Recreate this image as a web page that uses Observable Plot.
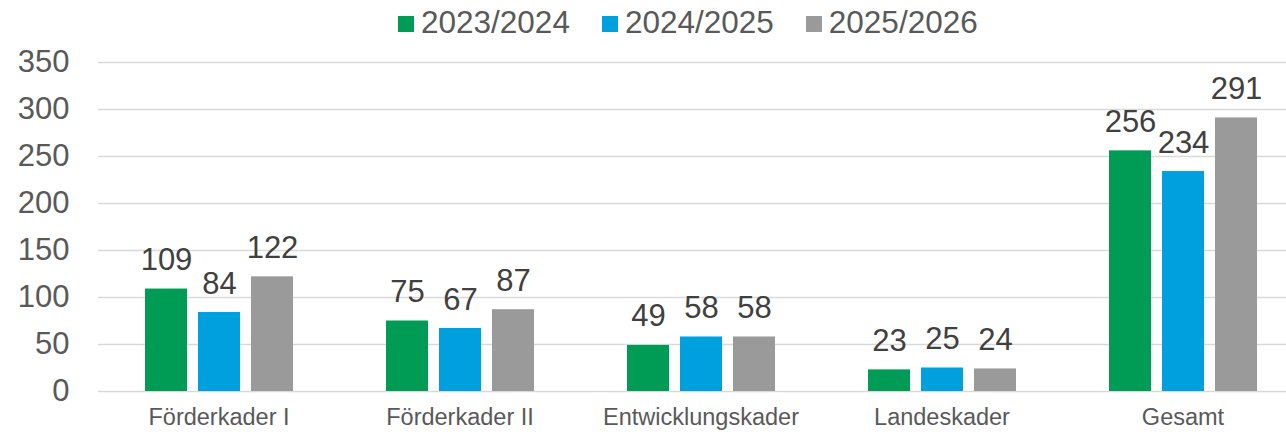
<!DOCTYPE html>
<html>
<head>
<meta charset="utf-8">
<script src="https://cdn.jsdelivr.net/npm/d3@7"></script>
<script src="https://cdn.jsdelivr.net/npm/@observablehq/plot@0.6"></script>
<style>
  html, body { margin: 0; padding: 0; background: #fff; overflow: hidden; }
  body { width: 1286px; height: 432px; font-family: "Liberation Sans", Arial, sans-serif; }
  #legend { position: relative; height: 45px; display: flex; align-items: center; padding-left: 398px; box-sizing: border-box; }
  .item { display: flex; align-items: center; margin-right: 32px; font-size: 31.5px; color: #595959; }
  .sw { width: 16px; height: 16px; margin-right: 7px; margin-top: 2px; }
  #chart svg { display: block; overflow: hidden; }
</style>
</head>
<body>
<div id="legend"></div>
<div id="chart"></div>
<script>
const categories = ["Förderkader I", "Förderkader II", "Entwicklungskader", "Landeskader", "Gesamt"];
const seriesNames = ["2023/2024", "2024/2025", "2025/2026"];
const values2023 = [109, 75, 49, 23, 256];
const values2024 = [84, 67, 58, 25, 234];
const values2025 = [122, 87, 58, 24, 291];
const yTicks = [0, 50, 100, 150, 200, 250, 300, 350];
const colors = ["#009B55", "#009FDD", "#9A9A9A"];

const seriesValues = [values2023, values2024, values2025];
const data = [];
categories.forEach((c, i) => {
  seriesNames.forEach((s, j) => {
    data.push({category: c, series: s, value: seriesValues[j][i]});
  });
});

const font = '"Liberation Sans", Arial, sans-serif';

const chart = Plot.plot({
  width: 1286,
  height: 387,
  marginLeft: 97,
  marginRight: 0,
  marginTop: 17,
  marginBottom: 41,
  style: {fontFamily: font, background: "#fff", overflow: "hidden"},
  fx: {domain: categories, range: [96, 1304.4], padding: 0, label: null},
  x: {domain: seriesNames, paddingInner: 0.215, paddingOuter: 0.865, axis: null},
  y: {domain: [0, 350], label: null},
  color: {domain: seriesNames, range: colors},
  marks: [
    Plot.ruleY(yTicks, {stroke: "#d9d9d9", strokeWidth: 1.5}),
    Plot.barY(data, {fx: "category", x: "series", y: "value", fill: "series"}),
    Plot.text(data, {fx: "category", x: "series", y: "value", text: d => String(d.value), lineAnchor: "bottom", dy: -19, fontSize: 31, fill: "#404040"}),
    Plot.axisY({ticks: yTicks, tickSize: 0, tickPadding: 29, fontSize: 31, fill: "#595959", label: null}),
    Plot.axisFx({anchor: "bottom", tickSize: 0, tickPadding: 17, fontSize: 23.5, fill: "#595959", label: null})
  ]
});
document.getElementById("chart").appendChild(chart);

const cs = chart.scale("color");
const legend = document.getElementById("legend");
cs.domain.forEach((name, i) => {
  const item = document.createElement("div");
  item.className = "item";
  const sw = document.createElement("div");
  sw.className = "sw";
  sw.style.background = cs.range[i];
  const t = document.createElement("span");
  t.textContent = name;
  item.appendChild(sw);
  item.appendChild(t);
  legend.appendChild(item);
});
</script>
</body>
</html>
